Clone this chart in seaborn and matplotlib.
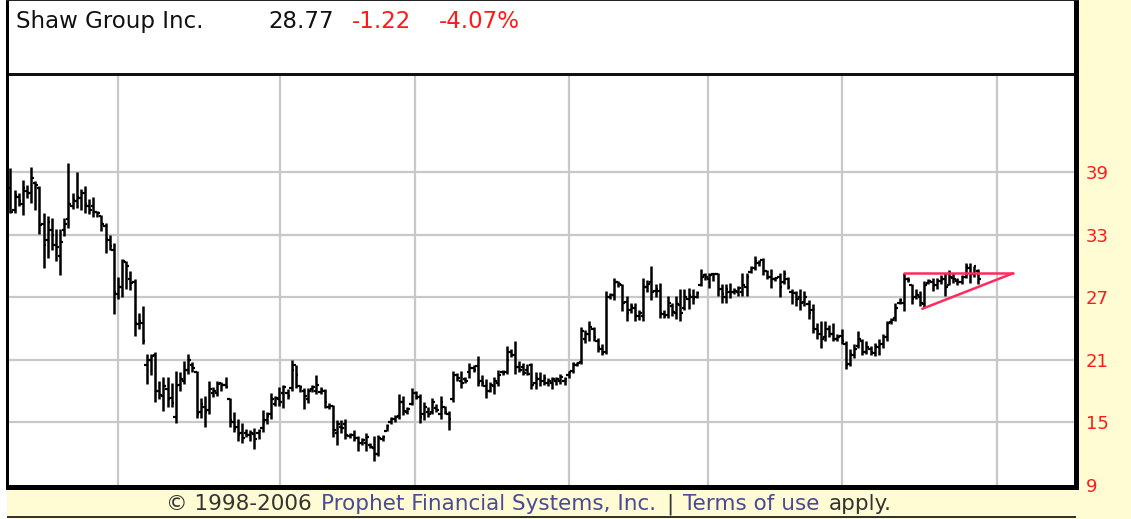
import matplotlib
matplotlib.use("Agg")
import matplotlib.pyplot as plt
import seaborn as sns
import numpy as np
import pandas as pd
from matplotlib.patches import Rectangle

# ---------------- data ----------------
title_name = "Shaw Group Inc."
last_price = "28.77"
change_abs = "-1.22"
change_pct = "-4.07%"

opens = [
    37.5, 35.4, 36.6, 36.0, 37.2, 37.0, 38.0, 37.5, 34.0, 32.5,
    33.5, 32.0, 31.0, 33.5, 34.5, 35.8, 36.2, 36.5, 37.0, 35.8,
    35.8, 35.2, 34.8, 33.8, 32.5, 31.5, 27.3, 28.0, 30.4, 28.8,
    28.5, 24.4, 24.5, 20.5, 21.0, 21.5, 18.0, 17.5, 18.2, 17.3,
    15.5, 18.6, 19.0, 20.0, 20.5, 19.8, 16.0, 16.5, 16.2, 17.8,
    17.8, 18.8, 18.6, 17.2, 15.0, 14.6, 14.0, 14.0, 13.8, 13.9,
    14.0, 14.5, 15.2, 15.8, 16.8, 17.2, 17.8, 17.8, 18.3, 20.5,
    18.5, 18.0, 17.2, 18.2, 18.0, 17.9, 18.0, 16.5, 16.6, 14.0,
    14.6, 14.8, 13.7, 13.8, 13.5, 13.0, 13.0, 12.8, 12.5, 12.0,
    13.4, 14.2, 15.0, 15.3, 15.6, 17.0, 16.0, 16.8, 17.8, 17.4,
    15.8, 16.0, 16.0, 16.4, 15.8, 16.5, 15.8, 17.2, 19.5, 19.0,
    19.2, 19.8, 20.2, 20.4, 19.0, 18.5, 18.0, 18.5, 18.8, 19.8,
    19.8, 21.8, 21.5, 20.3, 20.3, 20.0, 20.5, 18.8, 19.2, 19.0,
    18.8, 18.8, 19.0, 19.0, 19.0, 19.5, 19.9, 20.5, 20.8, 23.0,
    23.5, 24.0, 22.8, 22.0, 21.8, 27.0, 27.2, 28.5, 28.2, 26.6,
    25.8, 26.0, 25.2, 25.2, 28.0, 28.5, 27.6, 27.6, 25.4, 25.3,
    26.2, 25.5, 26.3, 26.0, 26.8, 27.0, 27.0, 28.2, 29.1, 28.8,
    29.2, 29.2, 27.8, 27.0, 27.5, 27.5, 27.5, 27.5, 28.0, 29.4,
    29.8, 30.3, 30.6, 29.5, 29.0, 28.8, 29.0, 28.5, 28.8, 27.5,
    27.4, 27.0, 26.6, 26.4, 25.8, 24.0, 23.5, 23.2, 24.0, 23.5,
    23.0, 23.3, 22.5, 20.6, 21.5, 22.3, 22.8, 21.8, 22.0, 21.7,
    22.2, 22.5, 23.2, 24.6, 25.0, 26.5, 26.5, 28.8, 28.2, 27.0,
    27.0, 26.4, 28.4, 28.5, 28.2, 28.6, 28.8, 28.2, 28.9, 28.6,
    28.5, 29.0, 29.8, 29.2, 29.5,
]
highs = [
    39.4, 37.3, 37.0, 38.3, 37.8, 39.5, 38.2, 37.7, 35.1, 34.8,
    34.6, 33.6, 33.6, 34.6, 39.9, 37.0, 39.0, 37.4, 37.7, 36.4,
    36.6, 35.3, 34.9, 34.1, 33.0, 32.2, 29.0, 30.7, 30.5, 29.5,
    28.8, 25.5, 26.2, 21.6, 21.6, 21.8, 19.0, 19.4, 19.4, 18.8,
    19.9, 19.8, 20.9, 21.6, 20.8, 19.9, 17.3, 17.5, 19.0, 18.4,
    19.0, 18.9, 19.4, 17.3, 16.0, 15.3, 14.9, 14.4, 14.3, 14.5,
    14.4, 16.2, 16.0, 17.8, 17.5, 18.4, 18.6, 18.2, 21.0, 20.5,
    18.6, 18.3, 18.3, 18.6, 19.5, 18.4, 18.2, 16.9, 16.7, 15.2,
    15.2, 15.3, 14.0, 14.3, 13.7, 13.5, 14.0, 13.0, 13.7, 13.8,
    13.8, 14.8, 15.5, 15.7, 17.7, 17.5, 16.5, 18.3, 18.0, 17.7,
    17.0, 16.5, 17.3, 16.8, 17.5, 16.6, 16.1, 19.9, 19.7, 19.9,
    19.4, 20.7, 20.5, 21.4, 19.5, 19.2, 18.9, 19.4, 20.0, 20.0,
    22.3, 22.0, 22.8, 20.9, 20.7, 20.6, 20.7, 19.8, 19.8, 19.6,
    19.3, 19.4, 19.4, 19.6, 19.4, 19.9, 20.8, 20.8, 24.2, 23.9,
    24.7, 24.2, 23.1, 22.5, 27.6, 27.4, 28.9, 28.6, 28.3, 27.1,
    26.5, 26.5, 25.8, 28.9, 28.7, 30.0, 28.3, 28.4, 25.8, 27.1,
    26.5, 27.1, 27.8, 27.8, 27.9, 27.8, 27.6, 29.7, 29.3, 29.3,
    29.3, 29.3, 28.3, 28.3, 28.4, 27.9, 28.1, 29.3, 29.3, 30.0,
    31.0, 30.6, 30.8, 29.6, 29.7, 29.0, 29.3, 29.6, 29.0, 27.8,
    27.6, 27.8, 27.6, 26.7, 26.4, 24.5, 24.7, 24.7, 24.3, 24.5,
    23.5, 24.0, 22.8, 22.0, 22.5, 23.8, 23.0, 22.8, 22.3, 22.6,
    23.0, 23.5, 24.7, 25.0, 26.5, 26.9, 29.3, 29.0, 28.3, 27.8,
    27.6, 28.6, 28.8, 28.9, 28.9, 29.1, 29.3, 29.6, 29.3, 28.9,
    29.1, 30.3, 30.3, 30.0, 29.7,
]
lows = [
    35.1, 35.1, 35.8, 34.9, 36.5, 36.1, 35.4, 33.1, 29.8, 30.8,
    31.5, 30.5, 29.1, 32.9, 33.7, 35.5, 35.6, 35.4, 35.1, 35.0,
    34.7, 34.7, 33.4, 31.3, 31.5, 25.4, 26.8, 27.0, 27.8, 27.7,
    23.3, 24.0, 22.5, 18.7, 19.5, 17.0, 17.2, 16.1, 16.5, 16.5,
    14.9, 18.0, 18.7, 19.6, 19.8, 15.4, 15.4, 14.6, 15.8, 17.4,
    17.5, 18.0, 18.3, 14.6, 14.1, 13.2, 13.0, 13.6, 13.2, 12.4,
    13.4, 14.1, 14.8, 15.3, 16.6, 16.6, 16.4, 17.2, 18.0, 18.3,
    17.9, 16.3, 16.9, 17.9, 17.7, 17.7, 16.4, 16.3, 13.6, 12.8,
    14.0, 13.4, 13.5, 13.2, 12.3, 12.8, 12.3, 12.5, 11.3, 11.8,
    13.2, 14.2, 14.8, 15.0, 15.3, 15.7, 15.8, 16.7, 17.2, 14.9,
    15.2, 15.5, 15.8, 16.0, 15.3, 15.8, 14.3, 17.0, 19.0, 18.3,
    18.8, 19.3, 19.8, 18.5, 18.5, 17.3, 17.9, 17.7, 18.5, 19.5,
    19.6, 21.3, 19.6, 19.8, 19.5, 19.5, 18.2, 18.2, 18.5, 18.6,
    18.5, 18.2, 18.6, 18.7, 18.6, 19.3, 19.7, 20.4, 20.6, 22.6,
    22.8, 22.8, 21.8, 21.5, 21.6, 26.8, 26.7, 28.0, 25.7, 24.7,
    25.5, 24.7, 24.8, 24.7, 27.5, 26.7, 27.0, 25.0, 25.0, 25.0,
    25.2, 24.9, 24.7, 25.8, 25.9, 26.4, 26.9, 28.1, 28.7, 27.9,
    28.6, 27.1, 26.5, 26.5, 26.9, 27.3, 27.1, 27.1, 27.1, 29.3,
    29.6, 30.0, 29.1, 28.8, 27.9, 28.6, 27.0, 28.3, 27.8, 26.4,
    26.2, 25.8, 26.2, 24.9, 23.6, 23.0, 22.1, 22.8, 23.2, 22.8,
    22.8, 22.5, 20.1, 20.4, 21.2, 22.1, 21.5, 21.6, 21.5, 21.4,
    21.5, 22.1, 22.8, 24.4, 24.7, 26.4, 25.7, 28.5, 26.4, 26.8,
    26.2, 26.0, 28.3, 27.6, 27.8, 28.3, 27.1, 28.2, 28.4, 28.2,
    28.3, 28.9, 28.4, 29.0, 28.3,
]
closes = [
    35.2, 36.8, 36.2, 37.5, 37.0, 38.5, 37.8, 33.9, 32.0, 34.2,
    33.0, 31.8, 32.3, 34.0, 36.0, 36.3, 36.6, 37.0, 36.0, 35.4,
    35.2, 35.1, 34.0, 32.6, 31.9, 27.5, 28.0, 30.5, 30.0, 28.4,
    24.5, 24.7, 22.8, 21.0, 21.4, 18.0, 17.6, 18.5, 17.2, 16.9,
    18.5, 19.2, 20.0, 21.0, 20.2, 15.8, 16.8, 16.0, 18.2, 18.0,
    18.7, 18.6, 18.4, 15.2, 14.4, 13.8, 13.5, 13.8, 14.0, 13.4,
    14.2, 15.0, 15.6, 17.2, 17.3, 17.0, 18.4, 17.5, 20.0, 19.5,
    18.4, 17.5, 18.0, 18.4, 18.6, 18.1, 17.0, 16.6, 14.3, 14.8,
    14.5, 13.8, 13.8, 13.5, 13.0, 13.3, 13.6, 12.6, 12.0, 13.5,
    13.6, 14.7, 15.3, 15.5, 17.0, 16.1, 16.3, 17.8, 17.3, 15.5,
    16.5, 15.8, 17.0, 16.2, 17.0, 16.0, 15.3, 19.5, 19.3, 18.8,
    19.0, 20.2, 20.0, 18.8, 18.8, 18.0, 18.6, 19.0, 19.5, 19.7,
    21.0, 21.5, 20.3, 20.0, 19.7, 19.6, 18.6, 19.3, 19.0, 19.3,
    19.0, 19.2, 19.2, 19.4, 19.2, 19.8, 20.6, 20.7, 23.8, 23.5,
    24.2, 23.2, 22.2, 21.7, 27.0, 27.2, 28.5, 28.3, 26.5, 25.5,
    26.2, 25.2, 25.5, 28.0, 28.3, 27.5, 27.8, 25.5, 25.2, 26.5,
    25.6, 26.4, 25.5, 27.0, 27.2, 26.8, 27.4, 29.0, 29.0, 29.1,
    29.2, 27.8, 27.3, 27.8, 27.5, 27.6, 27.9, 28.2, 29.0, 29.8,
    30.5, 30.4, 29.5, 29.0, 28.8, 28.9, 28.0, 29.2, 28.0, 27.4,
    26.8, 26.5, 27.0, 25.5, 24.0, 23.8, 23.0, 24.0, 23.5, 23.0,
    23.2, 22.8, 20.5, 21.6, 22.0, 23.0, 21.8, 22.2, 21.8, 22.3,
    22.5, 23.2, 24.5, 24.8, 26.0, 26.7, 28.8, 28.7, 26.8, 27.2,
    26.5, 28.2, 28.6, 28.2, 28.6, 28.8, 28.0, 29.0, 28.8, 28.5,
    29.0, 30.0, 29.2, 29.99, 28.77,
]
price_ticks = [9, 15, 21, 27, 33, 39]
grid_prices = [15, 21, 27, 33, 39]
period_breaks = [26.0, 65.2, 97.8, 135.1, 168.7, 201.1, 238.6]   # bar-index positions of vertical grid lines
tri_upper_x = [216, 242.4]
tri_upper_y = [29.3, 29.3]
tri_lower_x = [220.5, 242.4]
tri_lower_y = [25.9, 29.3]
footer_parts = ["\u00a9 1998-2006", "Prophet Financial Systems, Inc.", "|", "Terms of use", "apply."]

# ---------------- style ----------------
sns.set_theme(style="white")
plt.rcParams['font.family'] = ['DejaVu Sans']

W, H = 1131, 519
YELLOW = "#FFFCD4"
RED = "#FF1A1A"
BLUE = "#4A4A96"
GRAY_TXT = "#333333"

fig = plt.figure(figsize=(W / 100, H / 100), dpi=100, facecolor=YELLOW)

def fx(px):
    return px / W

def fy(py):
    return 1 - py / H

def prect(x0, y0, x1, y1, color, z=5):
    r = Rectangle((fx(x0), fy(y1)), (x1 - x0) / W, (y1 - y0) / H,
                  transform=fig.transFigure, facecolor=color, edgecolor="none", zorder=z)
    fig.add_artist(r)

# white left margin
prect(0, 0, 6.5, H, "white", z=1)

# header panel
head = fig.add_axes([fx(9), fy(75), (1074 - 9) / W, 75 / H])
head.set_facecolor("white")
head.set_xticks([]); head.set_yticks([])
for s in head.spines.values():
    s.set_visible(False)

# main chart axes
ax = fig.add_axes([fx(9), fy(485), (1074 - 9) / W, (485 - 75) / H])
ax.set_facecolor("white")
for s in ax.spines.values():
    s.set_visible(False)

df = pd.DataFrame({"open": opens, "high": highs, "low": lows, "close": closes})
df["idx"] = np.arange(len(df))

# grid lines
for p in grid_prices:
    ax.axhline(p, color="#C8C8C8", lw=1.6, zorder=0)
for b in period_breaks:
    ax.axvline(b, color="#C8C8C8", lw=1.6, zorder=0)

# OHLC bars
tick_w = 0.62
ax.vlines(df["idx"], df["low"], df["high"], color="black", lw=1.8, zorder=3)
ax.hlines(df["open"], df["idx"] - tick_w, df["idx"], color="black", lw=1.6, zorder=3)
ax.hlines(df["close"], df["idx"], df["idx"] + tick_w, color="black", lw=1.6, zorder=3)

# triangle pattern lines
sns.lineplot(x=tri_upper_x, y=tri_upper_y, ax=ax, color="#FF2A5F", lw=1.8, zorder=4, legend=False)
sns.lineplot(x=tri_lower_x, y=tri_lower_y, ax=ax, color="#FF2A5F", lw=1.8, zorder=4, legend=False)

ax.set_xlim(-0.36, 257.2)
ax.set_ylim(8.99, 48.34)
ax.set_xlabel(""); ax.set_ylabel("")
ax.set_xticks([])
ax.yaxis.tick_right()
ax.set_yticks(price_ticks)
ax.set_yticklabels([str(t) for t in price_ticks])
ax.tick_params(axis="y", length=0, pad=8.6, labelsize=13, labelcolor=RED)
ax.grid(False)

# frame (black borders, drop-shadow style)
prect(6, 0, 9, 490, "black")            # left
prect(1074, 0, 1079, 490, "black")      # right
prect(6, 485, 1079, 490, "black")       # bottom
prect(9, 73.5, 1074, 76, "#111111")     # header divider
prect(6, 0, 1079, 1.2, "#222222")       # top
prect(6.5, 516, 1076, 518, "#333333")   # footer base line

# header texts
hy = fy(22)
fig.text(fx(16), hy, title_name, color="#111111", fontsize=16.5, va="center", ha="left", zorder=6)
fig.text(fx(268), hy, last_price, color="#111111", fontsize=16.5, va="center", ha="left", zorder=6)
fig.text(fx(352), hy, change_abs, color=RED, fontsize=16.5, va="center", ha="left", zorder=6)
fig.text(fx(439), hy, change_pct, color=RED, fontsize=16.5, va="center", ha="left", zorder=6)

# footer texts, chained left to right
footer_c = [GRAY_TXT, BLUE, GRAY_TXT, BLUE, GRAY_TXT]
renderer = fig.canvas.get_renderer()
xpos = 166.0
for s, c in zip(footer_parts, footer_c):
    t = fig.text(fx(xpos), fy(504), s, color=c, fontsize=15.5, va="center", ha="left", zorder=6)
    bb = t.get_window_extent(renderer)
    xpos = bb.x1 + 9.5

fig.savefig("out.png", dpi=100, facecolor=YELLOW)
